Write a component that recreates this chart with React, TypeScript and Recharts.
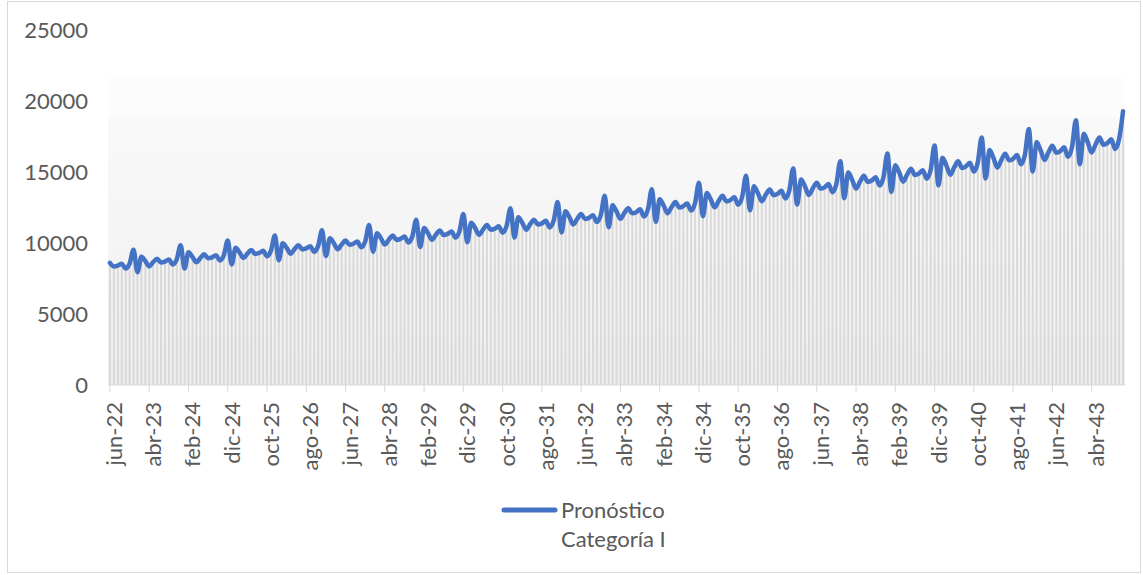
import React from 'react';
import { ComposedChart, Bar, Line, XAxis, YAxis, CartesianGrid } from 'recharts';

// Monthly forecast, jun-22 … dic-43 (each row = jun … may)
const VALUES: number[] = [
  8600, 8350, 8410, 8540, 8200, 8550, 9520, 7940, 9030, 8730, 8360, 8650,
  8890, 8630, 8690, 8840, 8480, 8840, 9840, 8210, 9340, 9030, 8640, 8940,
  9200, 8930, 8990, 9140, 8770, 9140, 10180, 8490, 9660, 9340, 8940, 9250,
  9510, 9230, 9300, 9450, 9070, 9460, 10530, 8780, 9990, 9660, 9250, 9570,
  9840, 9550, 9620, 9770, 9380, 9780, 10890, 9080, 10330, 9990, 9560, 9890,
  10170, 9880, 9950, 10110, 9700, 10110, 11260, 9390, 10690, 10330, 9890, 10230,
  10520, 10220, 10290, 10450, 10040, 10460, 11640, 9710, 11050, 10680, 10230, 10580,
  10880, 10560, 10640, 10810, 10380, 10820, 12040, 10050, 11430, 11050, 10580, 10940,
  11260, 10930, 11000, 11180, 10730, 11190, 12450, 10390, 11820, 11430, 10940, 11320,
  11640, 11300, 11380, 11560, 11100, 11570, 12880, 10740, 12230, 11820, 11310, 11700,
  12040, 11690, 11770, 11960, 11480, 11970, 13320, 11110, 12650, 12220, 11700, 12110,
  12450, 12090, 12170, 12370, 11870, 12370, 13780, 11490, 13080, 12640, 12100, 12520,
  12880, 12500, 12590, 12790, 12280, 12800, 14250, 11880, 13520, 13070, 12510, 12950,
  13320, 12930, 13020, 13230, 12700, 13240, 14740, 12290, 13990, 13520, 12940, 13390,
  13770, 13370, 13460, 13680, 13130, 13690, 15240, 12710, 14470, 13980, 13380, 13850,
  14240, 13830, 13920, 14150, 13580, 14160, 15760, 13150, 14960, 14460, 13840, 14320,
  14730, 14300, 14400, 14630, 14050, 14640, 16300, 13600, 15470, 14960, 14320, 14810,
  15230, 14790, 14890, 15130, 14530, 15140, 16860, 14060, 16000, 15470, 14810, 15320,
  15750, 15290, 15400, 15650, 15030, 15660, 17430, 14540, 16550, 16000, 15310, 15840,
  16290, 15820, 15930, 16190, 15540, 16190, 18030, 15040, 17110, 16540, 15840, 16380,
  16850, 16360, 16470, 16740, 16070, 16750, 18650, 15550, 17700, 17110, 16380, 16940,
  17430, 16920, 17030, 17310, 16620, 17320, 19280,
];

const MONTHS: string[] = ['ene', 'feb', 'mar', 'abr', 'may', 'jun', 'jul', 'ago', 'sep', 'oct', 'nov', 'dic'];
const START_MONTH_INDEX = 5; // jun
const START_YEAR = 22;
const Y_TICKS: number[] = [0, 5000, 10000, 15000, 20000, 25000];
const SERIES_NAME = 'Pronóstico';
const SERIES_NAME_2 = 'Categoría I';

const data = VALUES.map((v, i) => {
  const k = START_MONTH_INDEX + i;
  return { label: `${MONTHS[k % 12]}-${START_YEAR + Math.floor(k / 12)}`, value: v };
});

const FONT = 'Lato, "Noto Sans", sans-serif';
const TEXT = '#595959';
const FS = 22;

const XTick = (props: any) => {
  const { x, y, payload } = props;
  const y0 = y + 8;
  return (
    <text
      x={x}
      y={y0}
      dy={12}
      textAnchor="end"
      transform={`rotate(-90, ${x}, ${y0})`}
      fill={TEXT}
      fontSize={FS}
      fontFamily={FONT}
    >
      {payload.value}
    </text>
  );
};

export default function App() {
  return (
    <div style={{ position: 'absolute', left: 0, top: 0, width: 1143, height: 575, background: '#fff' }}>
      <div
        style={{
          position: 'absolute',
          left: 7,
          top: 1,
          width: 1134,
          height: 572,
          border: '1px solid #d9d9d9',
          boxSizing: 'border-box',
        }}
      />
      <div style={{ position: 'absolute', left: 0, top: 0 }}>
        <ComposedChart
          width={1143}
          height={575}
          data={data}
          margin={{ top: 30, right: 18, bottom: 90, left: 0 }}
          barCategoryGap={0}
        >
          <defs>
            <linearGradient id="plotBg" x1="0" y1="0" x2="0" y2="1">
              <stop offset="0" stopColor="#ffffff" />
              <stop offset="0.132" stopColor="#ffffff" />
              <stop offset="0.133" stopColor="#fdfdfd" />
              <stop offset="0.245" stopColor="#fcfcfc" />
              <stop offset="0.246" stopColor="#f9f9f9" />
              <stop offset="1" stopColor="#efefef" />
            </linearGradient>
          </defs>
          <CartesianGrid horizontal={false} vertical={false} fill="url(#plotBg)" />
          <XAxis
            dataKey="label"
            interval={9}
            height={100}
            axisLine={{ stroke: '#d9d9d9', strokeWidth: 1 }}
            tickLine={{ stroke: '#d9d9d9', strokeWidth: 1 }}
            tickSize={7}
            tick={<XTick />}
          />
          <YAxis
            domain={[0, 25000]}
            ticks={Y_TICKS}
            axisLine={false}
            tickLine={false}
            tickMargin={14}
            width={108}
            interval={0}
            tick={{ fill: TEXT, fontSize: FS, fontFamily: FONT }}
          />
          <Bar dataKey="value" fill="#d9d9d9" barSize={2} isAnimationActive={false} />
          <Line
            dataKey="value"
            type="monotone"
            stroke="#4472c4"
            strokeWidth={4.5}
            strokeLinejoin="round"
            strokeLinecap="round"
            dot={false}
            activeDot={false}
            isAnimationActive={false}
          />
        </ComposedChart>
      </div>
      <svg
        style={{ position: 'absolute', left: 498, top: 500 }}
        width={64}
        height={20}
      >
        <line x1={6} y1={10} x2={57} y2={10} stroke="#4472c4" strokeWidth={5} strokeLinecap="round" />
      </svg>
      <div
        style={{
          position: 'absolute',
          left: 561,
          top: 495,
          fontFamily: FONT,
          fontSize: FS,
          lineHeight: '29px',
          color: TEXT,
          whiteSpace: 'nowrap',
        }}
      >
        <div>{SERIES_NAME}</div>
        <div>{SERIES_NAME_2}</div>
      </div>
    </div>
  );
}
